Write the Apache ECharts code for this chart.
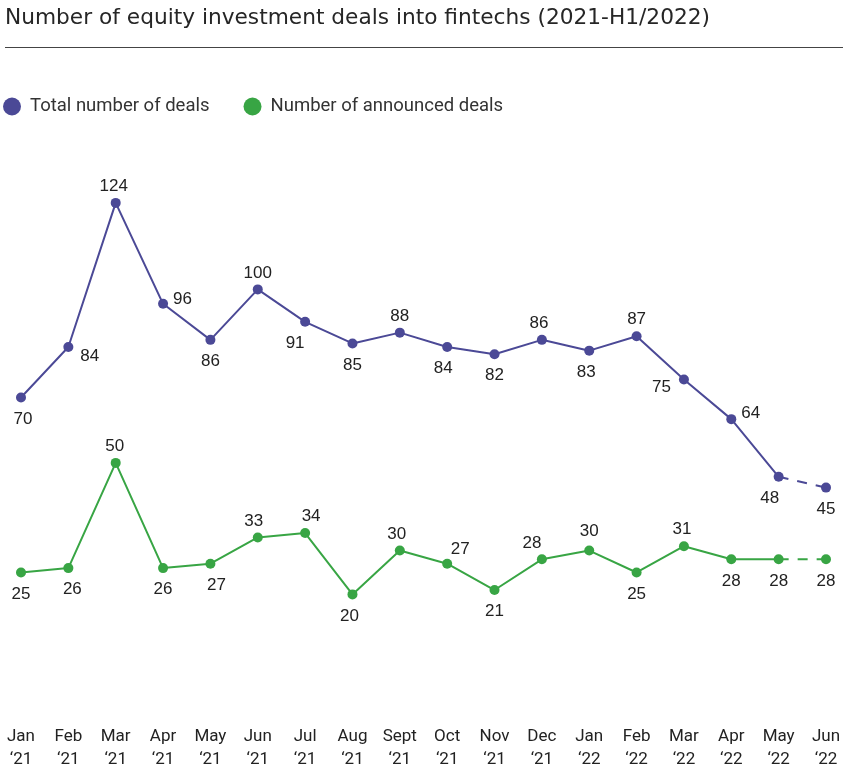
<!DOCTYPE html>
<html>
<head>
<meta charset="utf-8">
<script src="https://cdn.jsdelivr.net/npm/echarts@6/dist/echarts.min.js"></script>
<style>
  html, body { margin: 0; padding: 0; background: #fff; }
  #main { width: 846px; height: 771px; }
</style>
</head>
<body>
<div id="main"></div>
<script>
// months on the x axis
var months = ['Jan\n\u201821', 'Feb\n\u201821', 'Mar\n\u201821', 'Apr\n\u201821', 'May\n\u201821', 'Jun\n\u201821',
              'Jul\n\u201821', 'Aug\n\u201821', 'Sept\n\u201821', 'Oct\n\u201821', 'Nov\n\u201821', 'Dec\n\u201821',
              'Jan\n\u201822', 'Feb\n\u201822', 'Mar\n\u201822', 'Apr\n\u201822', 'May\n\u201822', 'Jun\n\u201822'];
var totalDeals = [70, 84, 124, 96, 86, 100, 91, 85, 88, 84, 82, 86, 83, 87, 75, 64, 48, 45];
var announcedDeals = [25, 26, 50, 26, 27, 33, 34, 20, 30, 27, 21, 28, 30, 25, 31, 28, 28, 28];

// where each value label sits relative to its point
var totalLabelPlace = [
    ['bottom', [2, 0]], ['right', [2, 9]], ['top', [-2, 0]], ['right', [0, -4]], ['bottom', [0, 0]], ['top', [0, 0]],
    ['bottom', [-10, 0]], ['bottom', [0, 0]], ['top', [0, 0]], ['bottom', [-4, 0]], ['bottom', [0, 0]], ['top', [-3, 0]],
    ['bottom', [-3, 0]], ['top', [0, 0]], ['left', [-3, 8]], ['right', [0, -6]], ['bottom', [-9, 0]], ['bottom', [0, 0]]
];
var announcedLabelPlace = [
    ['bottom', [0, 0]], ['bottom', [4, 0]], ['top', [-1, 0]], ['bottom', [0, 0]], ['bottom', [6, 0]], ['top', [-4, 0]],
    ['top', [6, 0]], ['bottom', [-3, 0]], ['top', [-3, 0]], ['top', [13, 2]], ['bottom', [0, 0]], ['top', [-10, 0]],
    ['top', [0, -3]], ['bottom', [0, 0]], ['top', [-2, 0]], ['bottom', [0, 0]], ['bottom', [0, 0]], ['bottom', [0, 0]]
];

var PURPLE = '#4b4996';
var GREEN = '#38a544';
var last = months.length - 1;

function labelFor(place, extra) {
    var l = {position: place[0], offset: place[1], distance: place[0] === 'bottom' ? 8 : (place[0] === 'top' ? 3 : 5)};
    if (extra) l.show = true;
    return l;
}
function withLabels(values, places) {
    return values.map(function (v, i) {
        return {value: v, label: labelFor(places[i])};
    });
}
// solid part stops at May '22, dashed part joins May and Jun '22
function solidPart(values, places) {
    return withLabels(values, places).slice(0, last);
}
function dashedPart(values, places) {
    return values.map(function (v, i) {
        if (i < last - 1) return '-';
        if (i === last - 1) return {value: v, symbol: 'none'};
        return {value: v, label: labelFor(places[i], true)};
    });
}

var labelStyle = {show: true, fontSize: 17, color: '#222', fontFamily: 'Liberation Sans'};

var myChart = echarts.init(document.getElementById('main'));
myChart.setOption({
    animation: false,
    title: {
        text: 'Number of equity investment deals into fintechs (2021-H1/2022)',
        left: 5, top: 7, padding: 0,
        textStyle: {fontSize: 21.7, fontWeight: 'normal', color: '#262626', fontFamily: 'DejaVu Sans'}
    },
    graphic: [{
        type: 'line',
        shape: {x1: 5, y1: 47.5, x2: 843, y2: 47.5},
        style: {stroke: '#444', lineWidth: 1}
    }],
    legend: {
        data: ['Total number of deals', 'Number of announced deals'],
        left: 3, top: 97, padding: 0,
        icon: 'circle', itemWidth: 18, itemHeight: 18, itemGap: 34,
        textStyle: {fontSize: 18.5, color: '#333', fontFamily: 'Roboto', padding: [0, 0, 0, 4]}
    },
    grid: {left: 21, right: 20, top: 160, bottom: 90},
    xAxis: {
        type: 'category',
        data: months,
        boundaryGap: false,
        axisLine: {show: false},
        axisTick: {show: false},
        axisLabel: {interval: 0, fontSize: 17, lineHeight: 23, color: '#222', fontFamily: 'Roboto', margin: 46}
    },
    yAxis: [
        {type: 'value', show: false, min: -8.1, max: 135.9, splitLine: {show: false}},
        {type: 'value', show: false, min: 0.7, max: 119.1, splitLine: {show: false}}
    ],
    series: [
        {
            name: 'Total number of deals', type: 'line', yAxisIndex: 0,
            data: solidPart(totalDeals, totalLabelPlace),
            symbol: 'circle', symbolSize: 10,
            itemStyle: {color: PURPLE}, lineStyle: {color: PURPLE, width: 2},
            label: labelStyle
        },
        {
            name: 'Total dashed', type: 'line', yAxisIndex: 0,
            data: dashedPart(totalDeals, totalLabelPlace),
            symbol: 'circle', symbolSize: 10,
            itemStyle: {color: PURPLE}, lineStyle: {color: PURPLE, width: 2, type: [10, 9]},
            label: {show: false, fontSize: 17, color: '#222', fontFamily: 'Liberation Sans'}
        },
        {
            name: 'Number of announced deals', type: 'line', yAxisIndex: 1,
            data: solidPart(announcedDeals, announcedLabelPlace),
            symbol: 'circle', symbolSize: 10,
            itemStyle: {color: GREEN}, lineStyle: {color: GREEN, width: 2},
            label: labelStyle
        },
        {
            name: 'Announced dashed', type: 'line', yAxisIndex: 1,
            data: dashedPart(announcedDeals, announcedLabelPlace),
            symbol: 'circle', symbolSize: 10,
            itemStyle: {color: GREEN}, lineStyle: {color: GREEN, width: 2, type: [10, 9]},
            label: {show: false, fontSize: 17, color: '#222', fontFamily: 'Liberation Sans'}
        }
    ]
});
</script>
</body>
</html>
